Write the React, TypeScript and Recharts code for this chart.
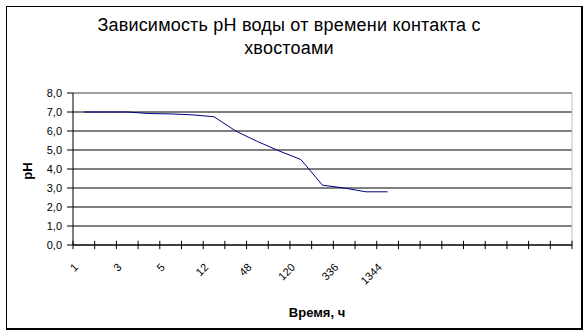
import React from 'react';
import { LineChart, Line, XAxis, YAxis, CartesianGrid, ReferenceLine } from 'recharts';

// Categories (hours); only every other one carries a visible label
const timeLabels: string[] = ['1', '2', '3', '4', '5', '8', '12', '24', '48', '72', '120', '240', '336', '672', '1344', '', '', '', '', '', '', '', ''];
const shownLabels: boolean[] = [true, false, true, false, true, false, true, false, true, false, true, false, true, false, true, false, false, false, false, false, false, false, false];
// pH values per category
const phValues: (number | null)[] = [7.0, 7.0, 7.0, 6.92, 6.9, 6.85, 6.75, 6.0, 5.45, 4.95, 4.5, 3.15, 3.0, 2.8, 2.8];
const yTicks: number[] = [0, 1, 2, 3, 4, 5, 6, 7, 8];
// category boundaries (tick marks sit between categories)
const boundaryTicks: number[] = timeLabels.map((_, i) => i).concat([timeLabels.length]);

const data = timeLabels.map((t, i) => ({ i, t, ph: i < phValues.length ? phValues[i] : null }));

const W = 588;
const H = 335;
const M = { top: 93, right: 16, bottom: 61, left: 13 };
const Y_AXIS_W = 60;
const X_AXIS_H = 29;
const TICK_HALF = 0.22; // half length of x tick marks, in pH units
const FONT = 'Arial, "Liberation Sans", sans-serif';

const XLabel = (props: any) => {
  const x = Number(props.x);
  const y = Number(props.y);
  const i = Number(props.payload?.value);
  const label = shownLabels[i] ? timeLabels[i] : '';
  const ax = x - 5;
  const ay = y + 23;
  return (
    <g>
      {label ? (
        <text x={ax} y={ay} transform={`rotate(-45 ${ax} ${ay})`} textAnchor="end" fontSize={11} fontFamily={FONT} fill="#000" stroke="none">
          {label}
        </text>
      ) : null}
    </g>
  );
};

export default function App() {
  return (
    <div style={{ position: 'absolute', left: 0, top: 0, width: W, height: H, background: '#fff', fontFamily: FONT }}>
      <div style={{ position: 'absolute', left: 6, top: 6, width: 577, height: 324, boxSizing: 'border-box', borderLeft: '1px solid #000', borderTop: '1px solid #000', borderRight: '2px solid #000', borderBottom: '2px solid #000' }} />
      <div style={{ position: 'absolute', left: 0, width: 578, top: 14, textAlign: 'center', fontSize: 18, letterSpacing: 0.2, lineHeight: '23px', color: '#000' }}>
        Зависимость pH воды от времени контакта с<br />хвостоами
      </div>
      <div style={{ position: 'absolute', left: 0, width: 634, top: 305, textAlign: 'center', fontSize: 13, fontWeight: 'bold', color: '#000' }}>
        Время, ч
      </div>
      <div style={{ position: 'absolute', left: 27, top: 171, width: 0, height: 0 }}>
        <div style={{ position: 'absolute', transform: 'translate(-50%, -50%) rotate(-90deg)', fontSize: 13, fontWeight: 'bold', whiteSpace: 'nowrap', color: '#000' }}>pH</div>
      </div>
      <div style={{ position: 'absolute', left: 0, top: 0 }}>
        <LineChart width={W} height={H} data={data} margin={M}>
          <CartesianGrid stroke="#000" vertical={false} />
          <CartesianGrid
            stroke="#c0c0c0"
            horizontal={false}
            verticalCoordinatesGenerator={({ offset }: any) => [offset.left + offset.width]}
          />
          <ReferenceLine y={8} stroke="#c0c0c0" />
          <XAxis
            dataKey="i"
            type="category"
            scale="band"
            interval={0}
            height={X_AXIS_H}
            tickSize={0}
            tickMargin={0}
            tickLine={false}
            axisLine={{ stroke: '#000' }}
            tick={(p: any) => <XLabel {...p} />}
          />
          <XAxis
            xAxisId="bounds"
            dataKey="i"
            type="number"
            domain={[0, timeLabels.length]}
            allowDataOverflow
            ticks={boundaryTicks}
            hide
          />
          <YAxis
            width={Y_AXIS_W}
            domain={[0, 8]}
            ticks={yTicks}
            interval={0}
            tickSize={6}
            tickMargin={5}
            axisLine={{ stroke: '#000' }}
            tickLine={{ stroke: '#000' }}
            tick={{ fontSize: 11, fontFamily: FONT, fill: '#000' }}
            tickFormatter={(v: number) => v.toFixed(1).replace('.', ',')}
          />
          {boundaryTicks.map((b) => (
            <ReferenceLine
              key={`b${b}`}
              xAxisId="bounds"
              segment={[{ x: b, y: -TICK_HALF }, { x: b, y: TICK_HALF }]}
              stroke="#000"
              strokeWidth={1}
              ifOverflow="visible"
            />
          ))}
          <Line dataKey="ph" stroke="#000080" strokeWidth={1} dot={false} isAnimationActive={false} connectNulls={false} />
        </LineChart>
      </div>
    </div>
  );
}
